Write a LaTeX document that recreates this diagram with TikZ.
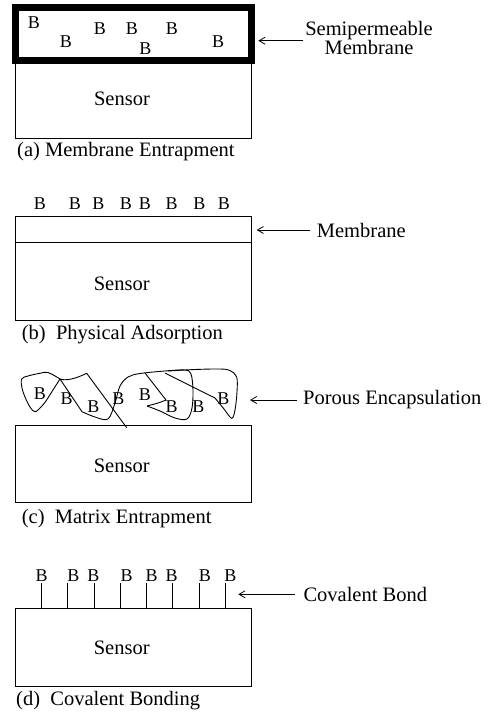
\documentclass[tikz,border=0pt]{standalone}
\usepackage{fontspec}
\setmainfont{Liberation Serif}
\usetikzlibrary{arrows.meta}
\begin{document}
\begin{tikzpicture}[x=1pt,y=-1pt,
  thinline/.style={line width=0.9pt},
  lbl/.style={font=\fontsize{20.5}{19}\selectfont, inner sep=0pt},
  bio/.style={font=\fontsize{18}{18}\selectfont, inner sep=0pt},
  captext/.style={lbl, anchor=west},
  sidetext/.style={lbl, anchor=west},
  arr/.style={line width=0.8pt, -{Straight Barb[length=6pt,width=7pt]}},
]
\useasboundingbox (0,0) rectangle (490,712);

% ---------- (a) Membrane Entrapment ----------
\draw[line width=7pt] (15.7,7.8) rectangle (251.7,60.5);
\draw[thinline] (15.3,60.5) rectangle (251.7,138.3);
\node[bio] (a1) at (34,22.7) {B};
\node[bio] (a2) at (66,41.7) {B};
\node[bio] (a3) at (100,28.3) {B};
\node[bio] (a4) at (132,28.3) {B};
\node[bio] (a5) at (145.5,48.3) {B};
\node[bio] (a6) at (172,28.3) {B};
\node[bio] (a7) at (218,41.7) {B};
\node[lbl] (sa) at (122,99.3) {Sensor};
\node[captext] (capa) at (17,151.7) {(a) Membrane Entrapment};
\node[lbl, align=center] (la) at (369,37.5) {Semipermeable\\Membrane};
\coordinate (ta) at (303.3,40.7);
\coordinate (ha) at (258.3,40.7);
\draw[arr] (ta) -- (ha);

% ---------- (b) Physical Adsorption ----------
\draw[thinline] (15.3,216.7) rectangle (251.7,320);
\draw[thinline] (15.3,242.3) -- (251.7,242.3);
\foreach \x [count=\i] in {40,75,98.3,126,145,171.7,199.3,224}
  \node[bio] (b\i) at (\x,204) {B};
\node[lbl] (sb) at (121.7,284) {Sensor};
\node[captext] (capb) at (21.7,335) {(b)\ \ Physical Adsorption};
\node[sidetext] (lb) at (316.7,230) {Membrane};
\coordinate (tb) at (310,230);
\coordinate (hb) at (256.7,230);
\draw[arr] (tb) -- (hb);

% ---------- (c) Matrix Entrapment ----------
\draw[thinline] (15.3,425) rectangle (251.7,502.7);
\node[bio] (c1) at (40,393.3) {B};
\node[bio] (c2) at (66.7,398.3) {B};
\node[bio] (c3) at (93.3,406.7) {B};
\node[bio] (c4) at (118.3,398.3) {B};
\node[bio] (c5) at (145,394.3) {B};
\node[bio] (c6) at (171.7,406.7) {B};
\node[bio] (c7) at (198.3,406.7) {B};
\node[bio] (c8) at (223.3,398.3) {B};
% matrix strands
\draw[thinline] plot[smooth, tension=0.6] coordinates {(60,379) (48,372.5) (40,373.3) (28,376) (21.7,379) (22,388) (25,397) (30,407) (35,411.7) (41,407) (46,401)} -- (60,379);
\draw[thinline] (60,379) .. controls (66,381) and (75,379) .. (86.7,373.3) -- (126.7,427.7);
\draw[thinline] (60,379) -- (82,411.7);
\draw[thinline] plot[smooth, tension=0.55] coordinates {(82,411.7) (95,417) (108,419) (115,403) (120,386) (128,377) (140,373.5) (165,371) (185,370) (191,374) (193,390) (192,408) (187,419) (175,418) (160,411) (147,406)};
\draw[thinline] plot[smooth, tension=0.6] coordinates {(147,406) (158,403) (166,400)} -- (145,373);
\draw[thinline] (165,373) -- (215,398);
\draw[thinline] plot[smooth, tension=0.55] coordinates {(215,398) (224,409) (231.7,418.3) (235,410) (237,392) (236.7,377) (230,370.5) (220,369) (195,369.5) (168,371)};
\node[lbl] (sc) at (121.7,466) {Sensor};
\node[captext] (capc) at (21.7,518.3) {(c)\ \ Matrix Entrapment};
\node[sidetext] (lc) at (303,400) {Porous Encapsulation};
\coordinate (tc) at (296.7,400);
\coordinate (hc) at (250,400);
\draw[arr] (tc) -- (hc);

% ---------- (d) Covalent Bonding ----------
\draw[thinline] (15.3,608.3) rectangle (251.7,686);
\foreach \x/\bx [count=\i] in {41.7/41.7, 67.7/73.3, 94/93.3, 120.7/126.7, 146.7/151.7, 172.7/171.7, 199/205, 225.3/230.3}{
  \coordinate (s\i) at (\x,608.3);
  \coordinate (e\i) at (\x,582.7);
  \node[bio] (d\i) at (\bx,575.3) {B};
  \draw[thinline] (s\i) -- (e\i);
}
\node[lbl] (sd) at (121.7,648.3) {Sensor};
\node[captext] (capd) at (16,700.7) {(d)\ \ Covalent Bonding};
\node[sidetext] (ld) at (303.3,594.3) {Covalent Bond};
\coordinate (td) at (295,594.3);
\coordinate (hd) at (238.3,594.3);
\draw[arr] (td) -- (hd);
\end{tikzpicture}
\end{document}
